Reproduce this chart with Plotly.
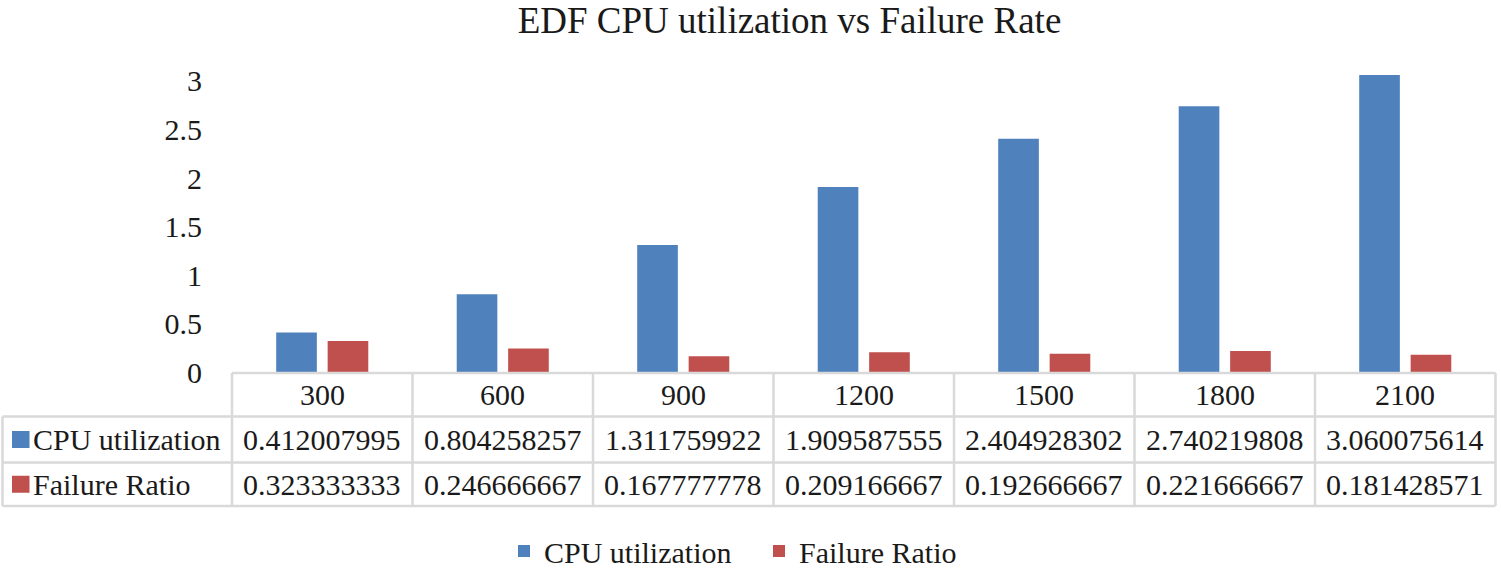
import plotly.graph_objects as go

categories = ["300", "600", "900", "1200", "1500", "1800", "2100"]
cpu_utilization = [0.412007995, 0.804258257, 1.311759922, 1.909587555, 2.404928302, 2.740219808, 3.060075614]
failure_ratio = [0.323333333, 0.246666667, 0.167777778, 0.209166667, 0.192666667, 0.221666667, 0.181428571]
series_names = ["CPU utilization", "Failure Ratio"]
y_ticks = [0, 0.5, 1, 1.5, 2, 2.5, 3]
y_tick_text = ["0", "0.5", "1", "1.5", "2", "2.5", "3"]

W, H = 1501, 568          # target picture size
FIG_H = 584               # page height that the capture maps onto H
BLUE = "#4F81BD"
RED = "#C0504D"
GRID = "#D9D9D9"
FONT = "Liberation Serif"

def px(x):
    return x / W

def py(y):
    return 1 - y / H

plot_left, plot_right = 232, 1495.5
plot_bottom, y3_pos = 372.5, 80.9
y_max = 3.2
plot_top = plot_bottom - (plot_bottom - y3_pos) / 3 * y_max

fig = go.Figure()
fig.add_trace(go.Bar(x=categories, y=cpu_utilization, name=series_names[0],
                     marker=dict(color=BLUE, line=dict(width=0))))
fig.add_trace(go.Bar(x=categories, y=failure_ratio, name=series_names[1],
                     marker=dict(color=RED, line=dict(width=0))))

# data table
table_top, hdr_bot, row1_bot, row2_bot = 373, 416.5, 462.5, 506
row_label_left = 2.5
n = len(categories)
col_w = (plot_right - plot_left) / n
shapes = []
line = dict(color=GRID, width=2.5)
for k in range(n + 1):
    x = plot_left + k * col_w
    shapes.append(dict(type="line", xref="paper", yref="paper", x0=px(x), x1=px(x),
                       y0=py(table_top), y1=py(row2_bot), line=line))
shapes.append(dict(type="line", xref="paper", yref="paper", x0=px(row_label_left), x1=px(row_label_left),
                   y0=py(hdr_bot), y1=py(row2_bot), line=line))
shapes.append(dict(type="line", xref="paper", yref="paper", x0=px(plot_left), x1=px(plot_right),
                   y0=py(table_top), y1=py(table_top), line=line))
for yy in (hdr_bot, row1_bot, row2_bot):
    shapes.append(dict(type="line", xref="paper", yref="paper", x0=px(row_label_left), x1=px(plot_right),
                       y0=py(yy), y1=py(yy), line=line))

annotations = []
tfont = dict(family=FONT, size=30, color="#1a1a1a")
for i, c in enumerate(categories):
    annotations.append(dict(x=i, xref="x", y=py((table_top + hdr_bot) / 2), yref="paper",
                            text=c, showarrow=False, font=tfont, xanchor="center", yanchor="middle"))
rows = [(cpu_utilization, (hdr_bot + row1_bot) / 2, BLUE, series_names[0]),
        (failure_ratio, (row1_bot + row2_bot) / 2, RED, series_names[1])]
for vals, yc, col, name in rows:
    for i, v in enumerate(vals):
        annotations.append(dict(x=i, xref="x", y=py(yc), yref="paper", text=f"{v:.9f}",
                                showarrow=False, font=tfont, xanchor="center", yanchor="middle"))
    shapes.append(dict(type="rect", xref="paper", yref="paper", x0=px(12), x1=px(29.5),
                       y0=py(yc + 8.5), y1=py(yc - 8.5), fillcolor=col, line=dict(width=0)))
    annotations.append(dict(x=px(31), xref="paper", y=py(yc), yref="paper", text=name,
                            showarrow=False, font=tfont, xanchor="left", yanchor="middle"))

fig.update_layout(
    width=W, height=FIG_H,
    margin=dict(l=0, r=0, t=0, b=0),
    paper_bgcolor="white", plot_bgcolor="white",
    font=dict(family=FONT, size=30, color="#1a1a1a"),
    title=dict(text="EDF CPU utilization vs Failure Rate", x=px(789.5), xanchor="center",
               y=py(19), yanchor="middle", font=dict(family=FONT, size=37, color="#1a1a1a")),
    barmode="group", bargap=0.43, bargroupgap=0.21,
    xaxis=dict(domain=[px(plot_left), px(plot_right)], type="category", range=[-0.5, n - 0.5],
               showticklabels=False, showgrid=False, zeroline=False, showline=False, ticks=""),
    yaxis=dict(domain=[py(plot_bottom), py(plot_top)], range=[0, y_max],
               tickvals=y_ticks, ticktext=y_tick_text, showgrid=False, zeroline=False,
               showline=False, ticks="", ticklabelstandoff=29, tickfont=dict(family=FONT, size=30)),
    legend=dict(orientation="h", x=0.5 + 8.5 / W, xanchor="center", y=py(551), yanchor="middle",
                font=dict(family=FONT, size=30), itemwidth=30, tracegroupgap=0,
                entrywidth=210, entrywidthmode="pixels",
                bgcolor="rgba(0,0,0,0)"),
    shapes=shapes, annotations=annotations,
)

fig.write_html("out.html", config={"displayModeBar": False},
               post_script="document.body.style.margin='0';")
